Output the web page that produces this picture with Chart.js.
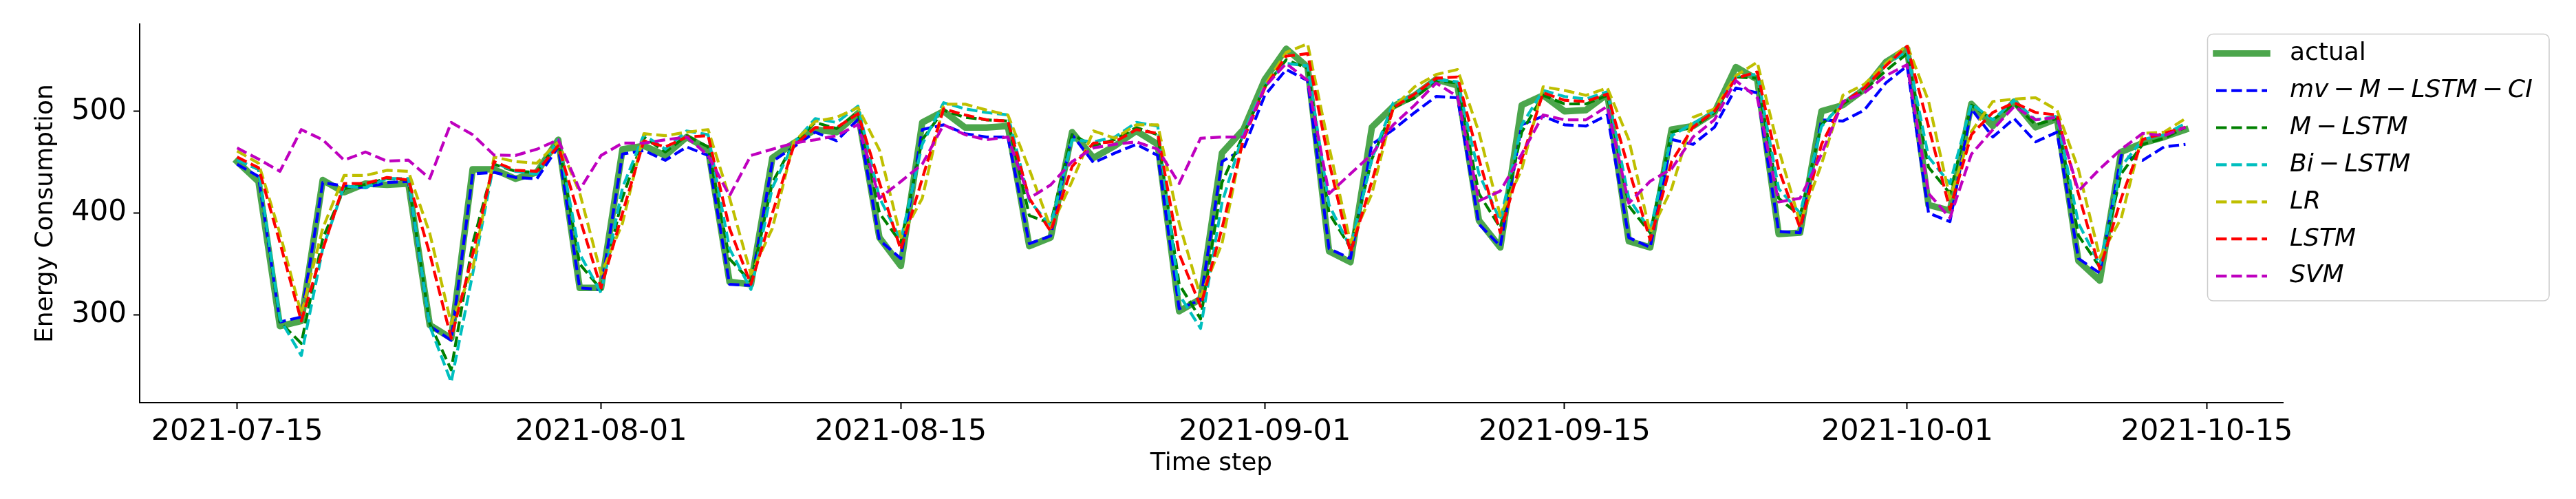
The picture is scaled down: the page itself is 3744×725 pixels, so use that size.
<!DOCTYPE html>
<html><head><meta charset="utf-8">
<script src="https://cdn.jsdelivr.net/npm/chart.js@4.4.1/dist/chart.umd.min.js"></script>
<style>html,body{margin:0;padding:0;background:#fff;}canvas{display:block;}</style>
</head><body>
<canvas id="c" width="3744" height="725"></canvas>
<script>
// ---------- data ----------
const startDate = '2021-07-15';
const nDays = 92;
const categories = Array.from({length: nDays}, (_, i) =>
  new Date(Date.UTC(2021, 6, 15 + i)).toISOString().slice(0, 10));

const xTickLabels = ['2021-07-15','2021-08-01','2021-08-15','2021-09-01','2021-09-15','2021-10-01','2021-10-15'];
const yTickValues = [300, 400, 500];

const seriesNames = ['actual', 'mv\u2009\u2212\u2009M\u2009\u2212\u2009LSTM\u2009\u2212\u2009CI', 'M\u2009\u2212\u2009LSTM', 'Bi\u2009\u2212\u2009LSTM', 'LR', 'LSTM', 'SVM'];

const actual = [
450.6, 431, 289, 294, 432.5, 420.5, 429, 427.7, 429, 290,
277, 443, 443, 433.7, 440, 472, 326.5, 326.5, 462.7, 466,
456.6, 474.7, 462.7, 332.5, 330, 454.2, 468.7, 482, 479.5, 498,
376, 348, 489, 500, 484, 484, 485.5, 367.5, 376, 479.5,
454.2, 466, 480.7, 467.5, 303.6, 315.7, 459, 482, 531.3, 561.4,
543.4, 362.6, 351.8, 484.3, 504.8, 515.7, 531.3, 525.3, 392.8, 366.3,
506, 515.7, 500, 501.2, 516.9, 372.3, 366.3, 482, 485.5, 498.8,
543.4, 531.3, 379.5, 380.7, 500, 506, 521.7, 548.2, 561.4, 408,
402.4, 507.2, 485.5, 509.6, 484.3, 492.8, 353, 333.7, 460.2, 468.7,
474.7, 482];

const mvMLstmCI = [
448, 436, 293, 298, 430, 426.5, 425, 430, 431, 289,
275, 438.5, 440, 435, 433.7, 465, 326.5, 325, 458, 461.4,
451.8, 465, 456.6, 330, 329, 450.6, 465, 479.5, 471, 492,
373.5, 355.4, 482, 486.7, 478, 474.7, 474.7, 370, 377.5, 477,
449.4, 459, 467.5, 456.6, 306, 314.5, 450.6, 462.7, 515.7, 541,
530.1, 365, 355.4, 467.5, 482, 498.8, 514.5, 513.3, 389.2, 367.5,
486.7, 495.2, 486.7, 485.5, 496.4, 375.9, 366.3, 472.3, 467.5, 484.3,
522.9, 518.1, 381.9, 380.7, 491.6, 490.4, 501.2, 527.7, 544.6, 400,
391.6, 502.4, 474.7, 492.8, 470, 479.5, 355.4, 341, 456.6, 451.8,
465, 467.5];

const mLstm = [
452, 443, 293, 272, 375, 424, 428, 434, 432.5, 291.5,
246, 370, 448, 441, 440, 471, 350, 325, 415, 474.7,
460, 476, 465, 355, 332.5, 430, 468.7, 489, 483, 499,
400, 371, 472, 501, 494, 491.6, 490.4, 397.6, 390, 477,
466, 472.3, 484, 477, 330, 296, 430, 477, 524, 550.6,
542.2, 400, 366, 453, 503.6, 513.3, 530.1, 527.7, 419, 385.5,
479.5, 515.7, 507.2, 507.2, 515.7, 407, 380.7, 479.5, 484.3, 498.8,
533.7, 532.5, 414.5, 397.6, 486.7, 507.2, 520.5, 539.8, 556.6, 445,
419.3, 506, 491.6, 507.2, 486.7, 492.8, 378, 347, 438.6, 467.5,
473.5, 484.3];

const biLstm = [
452, 443, 296, 260, 365, 426.5, 425, 434, 434, 289,
234, 340, 449.5, 441, 438.5, 472, 360, 321.7, 425, 477,
462.7, 480.7, 477, 365, 325, 425, 468.7, 492.8, 489, 505,
415, 373.5, 467.5, 508.4, 502.4, 498.8, 496.4, 412, 388, 472,
470, 474.7, 489, 485.5, 320, 286.7, 410, 478.3, 526.5, 547,
544.6, 408, 366, 453, 508.4, 516.9, 531.3, 528.9, 438.6, 392.8,
486.7, 520.5, 514.5, 512, 519.3, 414.5, 383, 476, 488, 500,
534.9, 536.1, 424, 400, 485, 508.4, 524, 545.8, 559, 455,
429, 507.2, 491.6, 510.8, 491.6, 495.2, 390, 349.4, 445.8, 472.3,
477, 488];

const lr = [
461, 449, 380, 301, 385, 437, 437, 442, 441, 380,
291.5, 345, 455, 450.6, 449, 470, 420, 340, 390, 478,
476, 479.5, 482, 415, 340, 385, 470, 490, 494, 503.6,
462, 376, 414.5, 507, 507, 501.2, 496.4, 443, 385.5, 431.3,
480.7, 473.5, 486.7, 486.7, 390, 318, 370, 474.7, 525.3, 557.8,
566.3, 465, 371, 419, 503.6, 524.1, 536.1, 541, 479.5, 397.6,
443, 524.1, 520.5, 515.7, 522.9, 472, 380.7, 424, 494, 502.4,
534.9, 548.2, 462.7, 390.4, 448, 515.7, 526.5, 547, 565, 510,
414.5, 480, 509.6, 512, 513.3, 501.2, 443, 356.6, 395, 478.3,
479.5, 492.8];

const lstm = [
455, 444.6, 371, 294, 364, 429, 429, 435, 432.5, 360,
277, 359, 450.6, 442, 441, 466, 395, 326.5, 400, 471,
465, 474.7, 476, 385, 330, 400, 466, 484, 484, 497.6,
430, 364, 433.7, 502.4, 496.4, 491.6, 490.4, 414.5, 382, 445.8,
468.7, 470, 482, 478.3, 360, 308.4, 385, 472.3, 522.9, 554.2,
556.6, 450, 361.4, 431, 503.6, 516.9, 532.5, 533.7, 453, 380.7,
453, 518.1, 510.8, 509.6, 516.9, 443, 373.5, 450.6, 484.3, 500,
532.5, 538.6, 443, 385.5, 467.5, 508.4, 522.9, 544.6, 563.9, 485,
403.6, 477, 498.8, 508.4, 498.8, 496.4, 419, 344.6, 414.5, 472.3,
478.3, 484.3];

const svm = [
464, 453, 441, 482, 472, 452, 460, 451, 452, 434,
489, 477, 457, 456.6, 462.7, 472, 422.9, 456.6, 468.7, 468.7,
472, 474.7, 456.6, 417, 456.6, 462.7, 468.7, 472, 476, 487,
414.5, 431, 448, 486.7, 477, 472, 474.7, 414.5, 427.7, 450.6,
464, 467.5, 470, 462.7, 429, 473.5, 474.7, 474.7, 524, 547,
530.1, 419, 438.6, 457.8, 486.7, 506, 527.7, 514.5, 412, 421.7,
458, 496.4, 491.6, 491.6, 504.8, 409.6, 431.3, 443.4, 474.7, 491.6,
530.1, 513.3, 410.9, 414.5, 457.8, 509.6, 518.1, 534.9, 545.8, 419.3,
395.2, 457.8, 482, 504.8, 491.6, 494, 421.7, 443.4, 462.7, 478.3,
476, 484.3];

// ---------- helpers ----------
const DAY = 86400000;
const dayIndex = s => Math.round((Date.parse(s) - Date.parse(startDate)) / DAY);
const xTickValues = xTickLabels.map(dayIndex);
const toPoints = vals => vals.map((v, i) => ({x: dayIndex(categories[i]), y: v}));

const FAMILY = "'DejaVu Sans'";
const DASH = [15.4, 6.7];
const seriesValues = [actual, mvMLstmCI, mLstm, biLstm, lr, lstm, svm];
const seriesColors = ['rgba(0,128,0,0.7)', '#0000ff', '#008000', '#00bfbf', '#bfbf00', '#ff0000', '#bf00bf'];

const datasets = seriesValues.map((vals, i) => ({
  label: seriesNames[i],
  data: toPoints(vals),
  borderColor: seriesColors[i],
  backgroundColor: seriesColors[i],
  borderWidth: i === 0 ? 9.5 : 4.2,
  borderDash: i === 0 ? [] : DASH,
  borderCapStyle: i === 0 ? 'square' : 'butt',
  borderJoinStyle: 'round',
  pointRadius: 0,
  tension: 0,
  fill: false,
  order: seriesValues.length - i
}));

const mplLegend = {
  id: 'mplLegend',
  afterDraw(chart) {
    const c = chart.ctx;
    c.save();
    c.beginPath();
    c.roundRect(3208.5, 49.5, 496.5, 387.5, 8);
    c.fillStyle = 'rgba(255,255,255,0.8)';
    c.fill();
    c.strokeStyle = '#cccccc';
    c.lineWidth = 1.5;
    c.stroke();
    chart.data.datasets.forEach((ds, i) => {
      const y = 77.7 + i * 53.9;
      c.beginPath();
      c.setLineDash(ds.borderDash);
      c.lineDashOffset = 0;
      c.lineWidth = ds.borderWidth;
      c.strokeStyle = ds.borderColor;
      c.lineCap = ds.borderCapStyle;
      c.moveTo(3221, y);
      c.lineTo(3295, y);
      c.stroke();
      c.setLineDash([]);
      c.font = (i === 0 ? '' : 'italic ') + '36px ' + FAMILY;
      c.fillStyle = '#000';
      c.textBaseline = 'middle';
      c.textAlign = 'left';
      c.fillText(ds.label, 3328, y);
    });
    c.restore();
  }
};

Chart.defaults.font.family = FAMILY;
Chart.defaults.color = '#000';

new Chart(document.getElementById('c').getContext('2d'), {
  type: 'line',
  data: { datasets },
  options: {
    responsive: false,
    animation: false,
    devicePixelRatio: 1,
    layout: { padding: { left: 0, right: 426, top: 29, bottom: 0 } },
    plugins: { legend: { display: false }, tooltip: { enabled: false } },
    scales: {
      x: {
        type: 'linear',
        min: -4.55,
        max: 95.55,
        afterBuildTicks: s => { s.ticks = xTickValues.map(v => ({value: v})); },
        afterFit: s => { s.height = 140; },
        ticks: {
          callback: v => { const k = xTickValues.indexOf(v); return k >= 0 ? xTickLabels[k] : ''; },
          font: { size: 43 }, color: '#000', padding: 8, maxRotation: 0, autoSkip: false
        },
        grid: { drawOnChartArea: false, drawTicks: true, tickLength: 9, tickWidth: 2, tickColor: '#000' },
        border: { display: true, color: '#000', width: 2 },
        title: { display: true, text: 'Time step', font: { size: 36 }, color: '#000', padding: { top: 0, bottom: 30 } }
      },
      y: {
        type: 'linear',
        min: 213.8,
        max: 585.5,
        afterBuildTicks: s => { s.ticks = yTickValues.map(v => ({value: v})); },
        afterFit: s => { s.width = 203; },
        ticks: { font: { size: 42 }, color: '#000', padding: 10 },
        grid: { drawOnChartArea: false, drawTicks: true, tickLength: 9, tickWidth: 2, tickColor: '#000' },
        border: { display: true, color: '#000', width: 2 },
        title: { display: true, text: 'Energy Consumption', font: { size: 36 }, color: '#000', padding: { top: 45, bottom: 0 } }
      }
    }
  },
  plugins: [mplLegend]
});
</script>
</body></html>
